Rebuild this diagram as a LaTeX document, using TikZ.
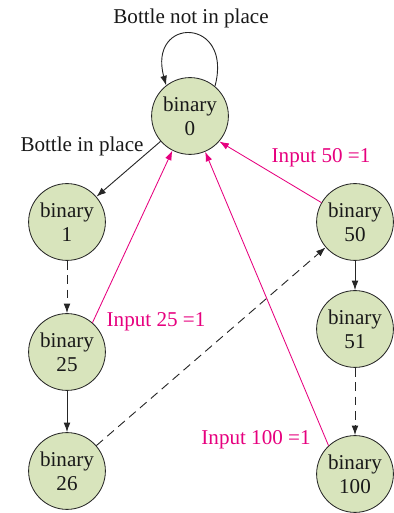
\documentclass[tikz,border=0pt]{standalone}
\usepackage{fontspec}
\setmainfont{Liberation Serif}
\usetikzlibrary{arrows.meta}
\definecolor{statefill}{RGB}{216,228,188}
\definecolor{inputpink}{RGB}{230,0,126}
\tikzset{
    binstate/.style={circle, draw=black!85, fill=statefill, line width=0.6pt,
        minimum size=1.92cm, inner sep=0pt, align=center, text=black!90,
        font=\fontsize{15}{17}\selectfont},
    flow/.style={-{Latex[length=2.4mm,width=1.7mm]}, line width=0.65pt, black!85},
    skip/.style={flow, dash pattern=on 2.2mm off 1.4mm},
    input/.style={flow, inputpink, line width=0.6pt},
    lbl/.style={font=\fontsize{15}{17}\selectfont, text=black!90},
    inlbl/.style={lbl, text=inputpink},
}
\begin{document}
\begin{tikzpicture}
    \useasboundingbox (0,0) rectangle (9.85,12.825);
    \node[binstate] (b0) at (4.75,9.925) {binary\\0};
    \node[binstate] (b1) at (1.675,7.275) {binary\\1};
    \node[binstate] (b25) at (1.675,4.025) {binary\\25};
    \node[binstate] (b26) at (1.675,1.05) {binary\\26};
    \node[binstate] (b50) at (8.875,7.275) {binary\\50};
    \node[binstate] (b51) at (8.875,4.6) {binary\\51};
    \node[binstate] (b100) at (8.875,0.975) {binary\\100};
    \draw[flow] (b0.50) .. controls +(75:1.8) and +(105:1.8) .. (b0.128);
    \node[lbl] (notin) at (4.775,12.375) {Bottle not in place};
    \draw[flow] (b0) -- (b1);
    \node[lbl] (inplace) at (2.05,9.175) {Bottle in place};
    \draw[skip] (b1) -- (b25);
    \draw[flow] (b25) -- (b26);
    \draw[skip] (b26) -- (b50);
    \draw[flow] (b50) -- (b51);
    \draw[skip] (b51) -- (b100);
    \draw[input] (b25.49) -- (b0.243);
    \node[inlbl] (in25) at (3.9,4.775) {Input 25 =1};
    \draw[input] (b50.150) -- (b0.319);
    \node[inlbl] (in50) at (8.025,8.875) {Input 50 =1};
    \draw[input] (b100.133) -- (b0.293);
    \node[inlbl] (in100) at (6.4,1.825) {Input 100 =1};
\end{tikzpicture}
\end{document}
